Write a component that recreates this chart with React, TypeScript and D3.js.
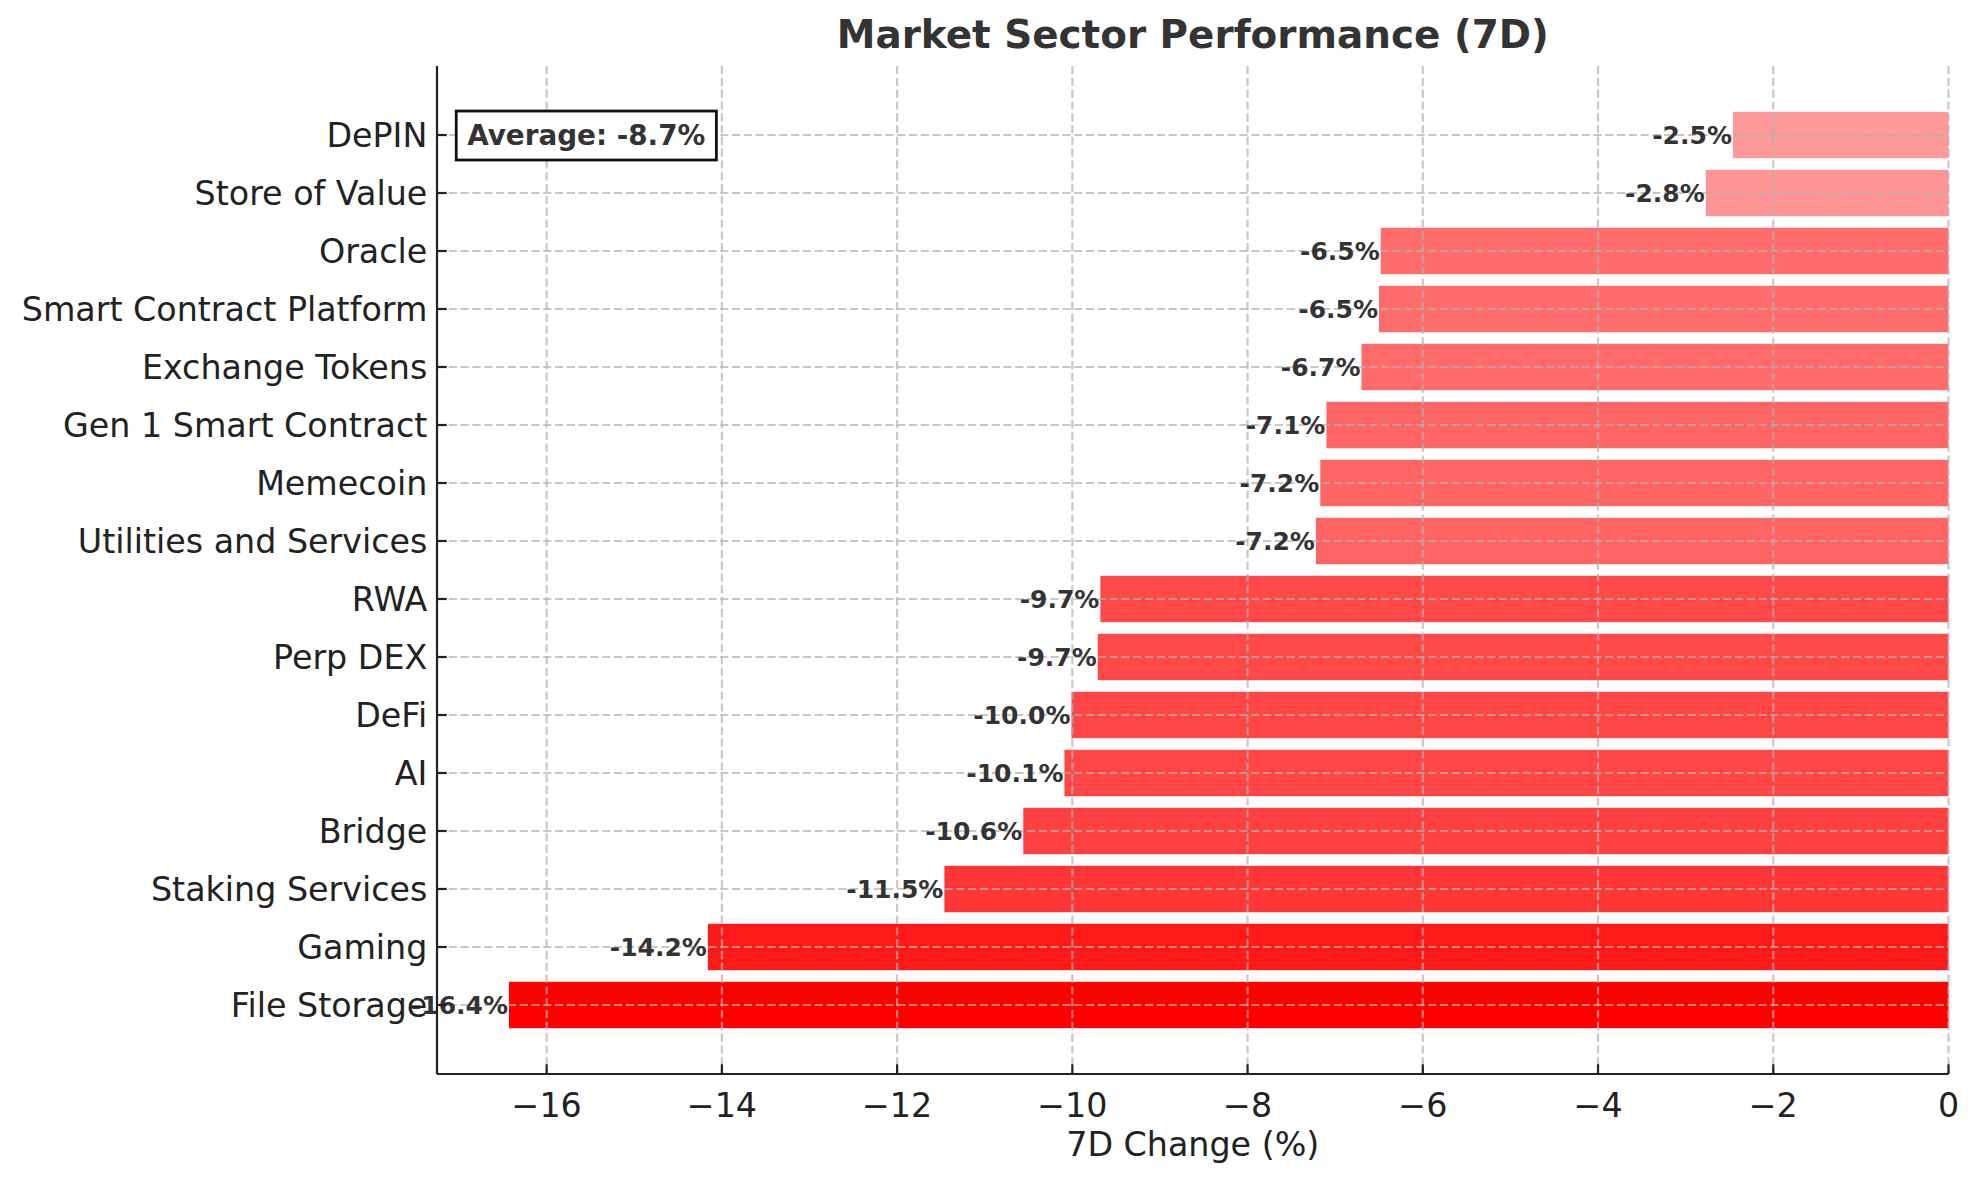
import React, { useRef, useEffect } from 'react';
import * as d3 from 'd3';

// sectors, bottom to top (matplotlib barh order)
const sectors = [
  'File Storage',
  'Gaming',
  'Staking Services',
  'Bridge',
  'AI',
  'DeFi',
  'Perp DEX',
  'RWA',
  'Utilities and Services',
  'Memecoin',
  'Gen 1 Smart Contract',
  'Exchange Tokens',
  'Smart Contract Platform',
  'Oracle',
  'Store of Value',
  'DePIN',
];
const change7d = [
  -16.43, -14.16, -11.46, -10.56, -10.09, -10.01, -9.71, -9.68, -7.22, -7.17, -7.1, -6.7, -6.5, -6.48, -2.77,
  -2.46,
];
const xTicks = [-16, -14, -12, -10, -8, -6, -4, -2, 0];

const W = 1979;
const H = 1180;
const margin = { top: 66, right: 30.5, bottom: 106, left: 437 };
const FONT = '"DejaVu Sans", sans-serif';

const App: React.FC = () => {
  const svgRef = useRef<SVGSVGElement>(null);

  useEffect(() => {
    document.body.style.margin = '0';
    if (!svgRef.current) return;
    const svg = d3.select(svgRef.current);
    svg.selectAll('*').remove();

    svg.append('rect').attr('width', W).attr('height', H).attr('fill', '#fff');

    const innerW = W - margin.left - margin.right;
    const innerH = H - margin.top - margin.bottom;
    const g = svg.append('g').attr('transform', `translate(${margin.left},${margin.top})`);

    const minV = d3.min(change7d) as number;
    const x = d3.scaleLinear().domain([minV * 1.05, 0]).range([0, innerW]);
    const n = sectors.length;
    const y = d3
      .scaleLinear()
      .domain([-0.4 - 0.05 * (n - 0.2), n - 0.6 + 0.05 * (n - 0.2)])
      .range([innerH, 0]);
    const barH = Math.abs(y(0.8) - y(0));
    const maxAbs = d3.max(change7d, v => Math.abs(v)) as number;

    // Bars
    g.selectAll('.bar')
      .data(change7d)
      .enter()
      .append('rect')
      .attr('class', 'bar')
      .attr('x', d => x(d))
      .attr('y', (_, i) => y(i + 0.4))
      .attr('width', d => x(0) - x(d))
      .attr('height', barH)
      .attr('fill', 'red')
      .attr('fill-opacity', d => 0.3 + 0.7 * (Math.abs(d) / maxAbs));

    // Grid (drawn over the bars)
    const grid = g
      .append('g')
      .attr('stroke', '#b0b0b0')
      .attr('stroke-opacity', 0.7)
      .attr('stroke-width', 2.2)
      .attr('stroke-dasharray', '8.2,3.6');
    grid
      .selectAll('.gx')
      .data(xTicks)
      .enter()
      .append('line')
      .attr('x1', d => x(d))
      .attr('x2', d => x(d))
      .attr('y1', 0)
      .attr('y2', innerH);
    grid
      .selectAll('.gy')
      .data(sectors)
      .enter()
      .append('line')
      .attr('x1', 0)
      .attr('x2', innerW)
      .attr('y1', (_, i) => y(i))
      .attr('y2', (_, i) => y(i));

    // Value labels
    g.selectAll('.val')
      .data(change7d)
      .enter()
      .append('text')
      .attr('x', d => x(d) - 1)
      .attr('y', (_, i) => y(i))
      .attr('dy', '0.36em')
      .attr('text-anchor', 'end')
      .attr('font-family', FONT)
      .attr('font-weight', 'bold')
      .attr('font-size', 25)
      .attr('fill', '#333')
      .text(d => `${d.toFixed(1)}%`);

    // Spines
    g.append('line').attr('x1', 0).attr('x2', 0).attr('y1', 0).attr('y2', innerH).attr('stroke', '#222').attr('stroke-width', 2.2);
    g.append('line').attr('x1', 0).attr('x2', innerW).attr('y1', innerH).attr('y2', innerH).attr('stroke', '#222').attr('stroke-width', 2.2);

    // X ticks (inward)
    const xt = g.append('g');
    xTicks.forEach(t => {
      xt.append('line').attr('x1', x(t)).attr('x2', x(t)).attr('y1', innerH).attr('y2', innerH - 9.7).attr('stroke', '#222').attr('stroke-width', 2.2);
      xt.append('text')
        .attr('x', x(t))
        .attr('y', innerH + 43)
        .attr('text-anchor', 'middle')
        .attr('font-family', FONT)
        .attr('font-size', 33.3)
        .attr('fill', '#222')
        .text(t < 0 ? `\u2212${Math.abs(t)}` : `${t}`);
    });

    // Y ticks (inward)
    const yt = g.append('g');
    sectors.forEach((s, i) => {
      yt.append('line').attr('x1', 0).attr('x2', 9.7).attr('y1', y(i)).attr('y2', y(i)).attr('stroke', '#222').attr('stroke-width', 2.2);
      yt.append('text')
        .attr('x', -9.7)
        .attr('y', y(i))
        .attr('dy', '0.36em')
        .attr('text-anchor', 'end')
        .attr('font-family', FONT)
        .attr('font-size', 33.3)
        .attr('fill', '#222')
        .text(s);
    });

    // Axis label
    g.append('text')
      .attr('x', innerW / 2)
      .attr('y', innerH + 82)
      .attr('text-anchor', 'middle')
      .attr('font-family', FONT)
      .attr('font-size', 33.3)
      .attr('fill', '#222')
      .text('7D Change (%)');

    // Title
    svg
      .append('text')
      .attr('x', margin.left + innerW / 2)
      .attr('y', margin.top - 18)
      .attr('text-anchor', 'middle')
      .attr('font-family', FONT)
      .attr('font-weight', 'bold')
      .attr('font-size', 38.9)
      .attr('fill', '#333')
      .text('Market Sector Performance (7D)');

    // Average box
    const avg = d3.mean(change7d) as number;
    const box = g.append('g');
    const boxRect = box.append('rect');
    const avgText = box
      .append('text')
      .attr('x', 0.02 * innerW)
      .attr('y', y(n - 1))
      .attr('dy', '0.36em')
      .attr('font-family', FONT)
      .attr('font-weight', 'bold')
      .attr('font-size', 27.8)
      .attr('fill', '#333')
      .text(`Average: ${avg.toFixed(1)}%`);
    const bb = (avgText.node() as SVGTextElement).getBBox();
    const pad = 11;
    boxRect
      .attr('x', bb.x - pad)
      .attr('y', bb.y - pad + 3)
      .attr('width', bb.width + 2 * pad)
      .attr('height', bb.height + 2 * pad - 6)
      .attr('fill', '#fff')
      .attr('stroke', '#111')
      .attr('stroke-width', 2.8);
  }, []);

  return <svg ref={svgRef} width={W} height={H} style={{ display: 'block' }} />;
};

export default App;
